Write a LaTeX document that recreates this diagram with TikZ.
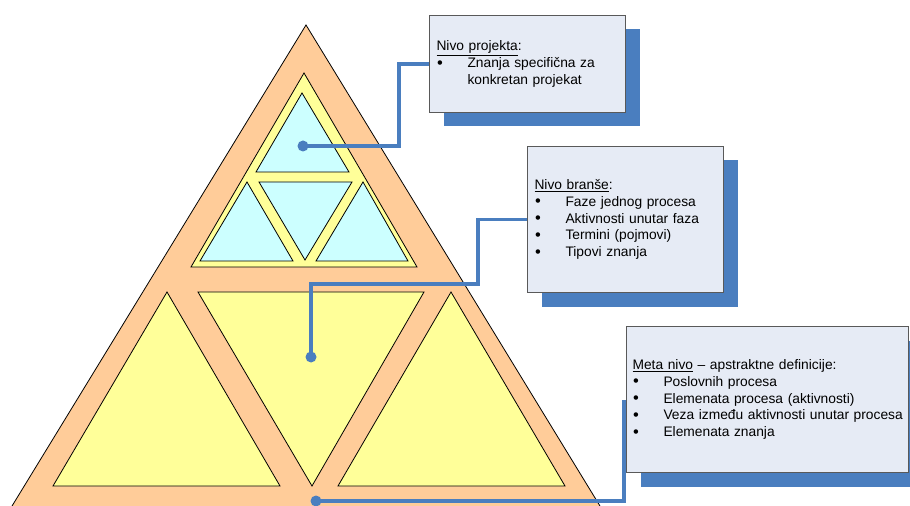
\documentclass[tikz,border=0pt]{standalone}
\usepackage{fontspec}
\setmainfont{Liberation Sans}
\usetikzlibrary{shadows}

\definecolor{peach}{HTML}{FFCC99}
\definecolor{lemon}{HTML}{FFFF99}
\definecolor{ice}{HTML}{CCFFFF}
\definecolor{boxfill}{HTML}{E6EBF5}
\definecolor{linkblue}{HTML}{4A7EBF}

\newcommand{\bitem}[1]{\makebox[31bp][l]{\hspace{0.5bp}\raisebox{-0.6bp}{\fontsize{16.5bp}{16.7bp}\selectfont•}}\mbox{#1}}

\tikzset{
  infobox/.style={draw=gray!70!black, fill=boxfill, line width=1bp, anchor=north west,
                  align=left, inner xsep=7bp, inner ysep=0pt,
                  font=\fontsize{13.8bp}{16.7bp}\selectfont,
                  drop shadow={shadow xshift=14bp, shadow yshift=-14bp, fill=linkblue, opacity=1}},
  link/.style={draw=linkblue, line width=3.5bp},
  dot/.style={circle, fill=linkblue, minimum size=11bp, inner sep=0pt},
  tri/.style={draw=black, line width=0.8bp}
}

\begin{document}
\begin{tikzpicture}[x=1bp,y=-1bp]
      \useasboundingbox (0,0) rectangle (910,506);

      % outer triangle
      \filldraw[tri,fill=peach] (306,25) -- (10.8,508) -- (601.2,508) -- cycle;

      % upper part
      \filldraw[tri,fill=lemon] (304,73) -- (191,267) -- (417,267) -- cycle;
      \filldraw[tri,fill=ice] (302,93)  -- (256,172) -- (349,172) -- cycle;
      \filldraw[tri,fill=ice] (259,182) -- (352,182) -- (305,260) -- cycle;
      \filldraw[tri,fill=ice] (247,182) -- (200,261) -- (293,261) -- cycle;
      \filldraw[tri,fill=ice] (363,182) -- (316,261) -- (408,261) -- cycle;

      % lower part
      \filldraw[tri,fill=lemon] (167,292) -- (53,486)  -- (280,486) -- cycle;
      \filldraw[tri,fill=lemon] (198,292) -- (424,292) -- (312,486) -- cycle;
      \filldraw[tri,fill=lemon] (451,292) -- (338,486) -- (565,486) -- cycle;

      % boxes
      \node[infobox, text width=182bp, minimum height=97bp] (projekt) at (429,15)
           {\underline{Nivo projekta}:\\
            \bitem{Znanja specifična za}\\
            \hspace*{31bp}konkretan projekat};
      \node[infobox, text width=182bp, minimum height=146bp] (branse) at (527,146)
           {\underline{Nivo branše}:\\
            \bitem{Faze jednog procesa}\\
            \bitem{Aktivnosti unutar faza}\\
            \bitem{Termini (pojmovi)}\\
            \bitem{Tipovi znanja}};
      \node[infobox, inner xsep=6bp, text width=270bp, minimum height=146bp] (meta) at (626,326)
           {\underline{Meta nivo} – apstraktne definicije:\\
            \bitem{Poslovnih procesa}\\
            \bitem{Elemenata procesa (aktivnosti)}\\
            \bitem{Veza između aktivnosti unutar procesa}\\
            \bitem{Elemenata znanja}};

      % connectors
      \node[dot] (projdot) at (303,146) {};
      \node[dot] (bransedot) at (311,357) {};
      \node[dot] (metadot) at (316,501) {};
      \draw[link] (projdot.center) -- ++(96,0) |- (projekt.west);
      \draw[link] (bransedot.center) |- (478,284) |- (branse.west);
      \draw[link] (metadot.center) -| ([xshift=-2bp]meta.west);

    \end{tikzpicture}
\end{document}
